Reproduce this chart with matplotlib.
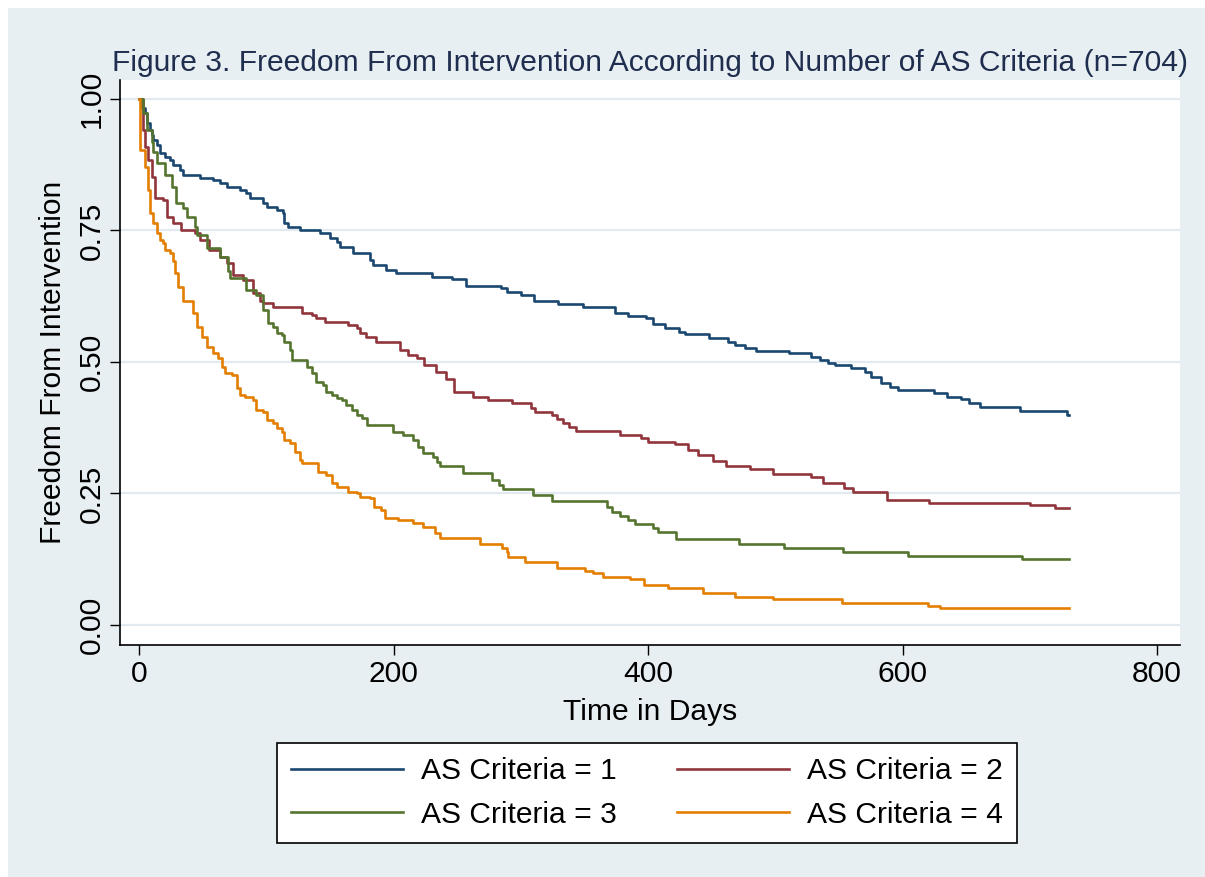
import matplotlib.pyplot as plt
from matplotlib.lines import Line2D
from matplotlib.patches import Rectangle

plt.rcParams["font.family"] = ["Liberation Sans", "DejaVu Sans"]

# Kaplan-Meier step estimates: event times (days) and survival after each event
days_as1 = [0, 1.7, 4.3, 5.6, 8.3, 9.6, 10.9, 13.5, 16, 20, 24, 26.6, 31.8, 34.4, 47.6,
            58, 63, 68.5, 79, 84, 87, 97, 100, 108, 113, 114, 117, 126, 142, 150, 155,
            157.6, 168, 181, 183.7, 194, 202, 230, 246, 257, 284, 289, 300, 310, 329,
            349, 374, 384, 398, 404, 413, 424, 429, 448, 463, 468, 476, 485, 511, 528,
            535, 541, 547, 559, 570, 575, 583, 590, 596, 625, 635, 646, 652, 661, 692, 729]
surv_as1 = [1.0, 0.982, 0.973, 0.954, 0.941, 0.932, 0.922, 0.913, 0.897, 0.890, 0.884,
            0.875, 0.865, 0.856, 0.850, 0.846, 0.840, 0.833, 0.827, 0.821, 0.811, 0.802,
            0.795, 0.789, 0.783, 0.764, 0.757, 0.751, 0.745, 0.735, 0.729, 0.719, 0.707,
            0.694, 0.684, 0.675, 0.669, 0.662, 0.658, 0.644, 0.641, 0.633, 0.627, 0.616,
            0.610, 0.605, 0.593, 0.587, 0.584, 0.572, 0.565, 0.557, 0.553, 0.546, 0.538,
            0.532, 0.527, 0.521, 0.517, 0.509, 0.504, 0.498, 0.494, 0.488, 0.481, 0.471,
            0.460, 0.452, 0.447, 0.441, 0.434, 0.429, 0.422, 0.414, 0.407, 0.399]

days_as2 = [0, 2.5, 4.3, 7, 9.6, 12.2, 18.7, 21.4, 26.6, 33, 43.6, 47.6, 55, 63, 68.5,
            73.7, 81.6, 89.5, 94.7, 97, 105, 128, 135.6, 139, 146, 164, 171, 173, 178,
            186, 205, 211, 218, 224, 233, 241, 247, 262, 274, 292.5, 308, 311, 324, 328,
            333, 338, 343, 378, 394, 400, 421, 431, 439, 451, 461, 480, 498, 528, 537,
            554, 561, 588, 621, 700, 720]
surv_as2 = [1.0, 0.941, 0.909, 0.884, 0.852, 0.811, 0.808, 0.776, 0.764, 0.751, 0.745,
            0.732, 0.713, 0.700, 0.688, 0.665, 0.656, 0.631, 0.615, 0.612, 0.605, 0.593,
            0.589, 0.584, 0.576, 0.570, 0.565, 0.555, 0.548, 0.538, 0.523, 0.513, 0.507,
            0.494, 0.481, 0.468, 0.443, 0.434, 0.428, 0.422, 0.412, 0.405, 0.399, 0.392,
            0.384, 0.377, 0.369, 0.361, 0.355, 0.348, 0.344, 0.333, 0.323, 0.312, 0.302,
            0.296, 0.287, 0.281, 0.270, 0.260, 0.253, 0.238, 0.232, 0.228, 0.222]

days_as3 = [0, 3, 5.7, 9.6, 10.9, 13.5, 20, 25.3, 29, 34.4, 37, 43.6, 45, 52.8, 63, 69.8,
            71, 84, 92, 97, 101, 105, 108, 112, 114, 118, 120, 132, 135.5, 139, 144, 147,
            151, 155, 159, 162, 167, 171, 175, 179, 199, 207, 215, 219, 223, 231, 234,
            236, 254.5, 277, 283, 286, 309.5, 324, 367.5, 371.5, 378, 384, 389.5, 404,
            408, 422, 471, 507, 553, 604, 694]
surv_as3 = [1.0, 0.973, 0.941, 0.919, 0.900, 0.878, 0.856, 0.833, 0.802, 0.792, 0.776,
            0.757, 0.741, 0.716, 0.700, 0.672, 0.659, 0.637, 0.627, 0.599, 0.574, 0.567,
            0.555, 0.551, 0.538, 0.523, 0.504, 0.491, 0.479, 0.462, 0.456, 0.443, 0.437,
            0.432, 0.428, 0.418, 0.409, 0.399, 0.394, 0.380, 0.367, 0.361, 0.352, 0.338,
            0.327, 0.320, 0.310, 0.302, 0.289, 0.276, 0.266, 0.259, 0.247, 0.236, 0.224,
            0.215, 0.207, 0.200, 0.192, 0.184, 0.177, 0.163, 0.154, 0.146, 0.139, 0.131,
            0.125]

days_as4 = [0, 0.5, 4.3, 7, 8.3, 10.9, 13.5, 16, 18.7, 20, 24, 26.6, 28, 30.5, 34.4,
            42.3, 45, 49, 52.8, 58, 62, 64.6, 67.2, 72.7, 76.5, 79, 83, 89, 92, 97, 100,
            105, 108, 112, 114, 118, 122, 126, 128, 140, 147, 151, 155, 164, 171, 173,
            181, 184, 190, 193, 203, 215, 223, 232, 236, 267.6, 285, 289, 290, 303, 328,
            350, 356.6, 364.6, 385.6, 397, 415.7, 443, 468, 498, 552, 620, 629]
surv_as4 = [1.0, 0.903, 0.871, 0.827, 0.783, 0.764, 0.745, 0.732, 0.726, 0.713, 0.707,
            0.691, 0.669, 0.643, 0.615, 0.593, 0.567, 0.548, 0.529, 0.517, 0.507, 0.491,
            0.479, 0.475, 0.450, 0.437, 0.434, 0.428, 0.409, 0.405, 0.390, 0.384, 0.375,
            0.367, 0.352, 0.346, 0.329, 0.314, 0.308, 0.291, 0.285, 0.270, 0.262, 0.253,
            0.251, 0.243, 0.241, 0.224, 0.219, 0.203, 0.200, 0.194, 0.186, 0.175, 0.165,
            0.154, 0.146, 0.139, 0.129, 0.120, 0.108, 0.103, 0.099, 0.091, 0.087, 0.076,
            0.070, 0.060, 0.054, 0.049, 0.042, 0.037, 0.032]

last_followup = 731
group_labels = ["AS Criteria = 1", "AS Criteria = 2", "AS Criteria = 3", "AS Criteria = 4"]
x_ticks = [0, 200, 400, 600, 800]
y_ticks = [0.0, 0.25, 0.5, 0.75, 1.0]
y_tick_labels = ["0.00", "0.25", "0.50", "0.75", "1.00"]

colors = ["#1a476f", "#90353b", "#55752f", "#e37e00"]
bg = "#e8eff2"
fs = 21.6
lw = 1.9

W, H = 1205, 877
fig = plt.figure(figsize=(W / 100, H / 100), dpi=100)
fig.patch.set_facecolor("white")
fig.add_artist(Rectangle((8 / W, 0), 1 - 8 / W, 1 - 8 / H, transform=fig.transFigure,
                         facecolor=bg, edgecolor="none", zorder=-10))

ax = fig.add_axes([120 / W, 1 - 645 / H, 1060 / W, 565 / H])
ax.set_facecolor("white")

curves = [(days_as1, surv_as1), (days_as2, surv_as2),
          (days_as3, surv_as3), (days_as4, surv_as4)]
handles = []
for (t, s), c, lab in zip(curves, colors, group_labels):
    ax.step(list(t) + [last_followup], list(s) + [s[-1]], where="post",
            color=c, lw=lw, zorder=3)
    handles.append(Line2D([], [], color=c, lw=lw, label=lab))

ax.set_xlim(-15.3, 818)
ax.set_ylim(-0.038, 1.036)
ax.set_xticks(x_ticks)
ax.set_yticks(y_ticks)
ax.set_yticklabels(y_tick_labels)

ax.yaxis.grid(True, color="#e3eaef", lw=1.6)
ax.set_axisbelow(True)
for side in ("top", "right"):
    ax.spines[side].set_visible(False)
for side in ("left", "bottom"):
    ax.spines[side].set_linewidth(1.2)
    ax.spines[side].set_color("black")

ax.tick_params(axis="both", direction="out", length=7, width=1, labelsize=fs, pad=4)
ax.tick_params(axis="y", labelrotation=90, pad=3)
for lab in ax.get_yticklabels():
    lab.set_va("center")

ax.set_xlabel("Time in Days", fontsize=fs)
ax.xaxis.set_label_coords(0.5, -0.093)
ax.set_ylabel("Freedom From Intervention", fontsize=fs)
ax.yaxis.set_label_coords(-0.05, 0.5)

fig.text(650 / W, 1 - 71 / H,
         "Figure 3. Freedom From Intervention According to Number of AS Criteria (n=704)",
         ha="center", va="baseline", fontsize=fs, color="#1f2d4e")

# two rows: 1 | 2 on top, 3 | 4 below (matplotlib fills legend columns first)
order = [0, 2, 1, 3]
leg = fig.legend([handles[i] for i in order], [group_labels[i] for i in order],
                 ncol=2, loc="center", bbox_to_anchor=(647 / W, 1 - 793 / H),
                 fontsize=fs, frameon=True, fancybox=False, edgecolor="black",
                 framealpha=1, borderpad=0.46, labelspacing=0.52, handlelength=3.73,
                 handletextpad=0.6, columnspacing=2.0)
leg.get_frame().set_linewidth(1.2)

fig.savefig("out.png", dpi=100, facecolor=fig.get_facecolor())
